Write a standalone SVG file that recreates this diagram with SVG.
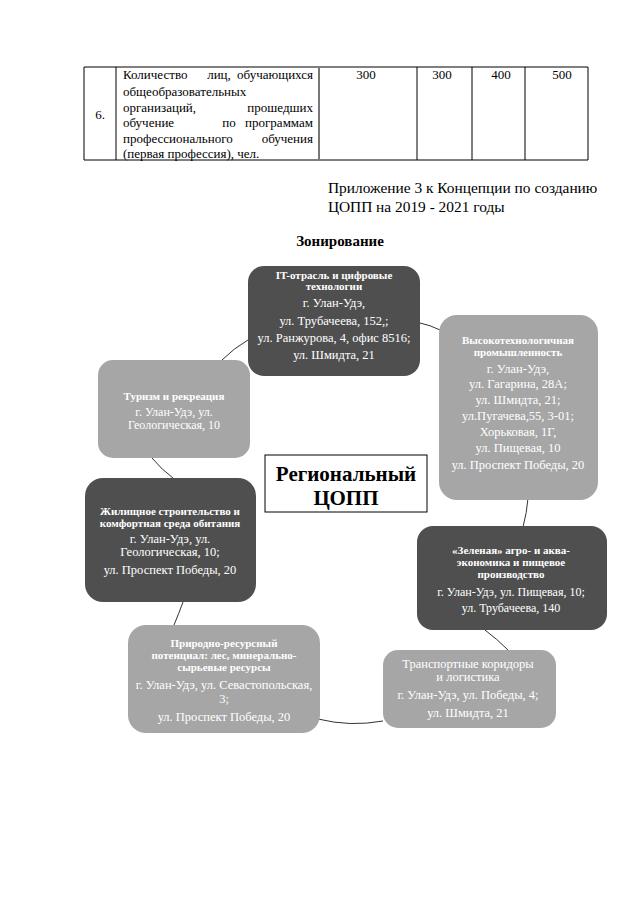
<svg xmlns="http://www.w3.org/2000/svg" width="640" height="905" viewBox="0 0 640 905">
<style>
.t{font-family:"Liberation Serif","Times New Roman",serif;fill:#000}
.tb{font-size:13px}
.n{font-family:"Liberation Serif","Times New Roman",serif;fill:#fff;text-anchor:middle;font-size:12.5px}
.s{font-size:12px}
.h{font-weight:bold;font-size:11px}
.dark{fill:#4f4f4f}
.light{fill:#a6a6a6}
.ln{stroke:#000;stroke-width:1;fill:none}
.cn{stroke:#333;stroke-width:1;fill:none}
</style>
<rect width="640" height="905" fill="#fff"/>
<g id="table">
<path class="ln" d="M84,67H588M84,160H588M84,67V160M116,67V160M417,67V160M472,67V160M525,67V160M588,67V160"/>
<path d="M319,67V160" stroke="#777" stroke-width="2"/>
<text class="t tb" x="100" y="119" text-anchor="middle">6.</text>
<g class="t tb">
<text x="123" y="79">Количество</text><text x="219" y="79" text-anchor="middle">лиц,</text><text x="313" y="79" text-anchor="end">обучающихся</text>
<text x="123" y="96">общеобразовательных</text>
<text x="123" y="112">организаций,</text><text x="313" y="112" text-anchor="end">прошедших</text>
<text x="123" y="127">обучение</text><text x="229" y="127" text-anchor="middle">по</text><text x="313" y="127" text-anchor="end">программам</text>
<text x="123" y="143">профессионального</text><text x="313" y="143" text-anchor="end">обучения</text>
<text x="123" y="158">(первая профессия), чел.</text>
</g>
<g class="t tb" text-anchor="middle">
<text x="366" y="79">300</text><text x="442" y="79">300</text><text x="501" y="79">400</text><text x="562" y="79">500</text>
</g>
</g>
<g id="header" class="t" font-size="15.4">
<text x="328" y="193">Приложение 3 к Концепции по созданию</text>
<text x="328" y="212">ЦОПП на 2019 - 2021 годы</text>
<text x="340" y="246" text-anchor="middle" font-weight="bold" font-size="15">Зонирование</text>
</g>
<g id="connectors">
<path class="cn" d="M420,323 Q430,325 440,330"/>
<path class="cn" d="M528,498 Q527,512 523,527"/>
<path class="cn" d="M485,630 Q497,639 508,650"/>
<path class="cn" d="M383,721 Q350,727 318,719"/>
<path class="cn" d="M174,625 Q179,613 183,602"/>
<path class="cn" d="M173,478 Q162,470 152,458"/>
<path class="cn" d="M222,360 Q234,348 248,340"/>
</g>
<g id="n-it">
<rect class="dark" x="248" y="266" width="172" height="110" rx="16"/>
<text class="n h" x="334" y="279">IT-отрасль и цифровые</text>
<text class="n h" x="334" y="290">технологии</text>
<text class="n" x="334" y="307">г. Улан-Удэ,</text>
<text class="n" x="334" y="325">ул. Трубачеева, 152,;</text>
<text class="n" x="334" y="342">ул. Ранжурова, 4, офис 8516;</text>
<text class="n" x="334" y="359">ул. Шмидта, 21</text>
</g>
<g id="n-hitech">
<rect class="light" x="439" y="315" width="159" height="185" rx="18"/>
<text class="n h" x="518" y="344">Высокотехнологичная</text>
<text class="n h" x="518" y="356">промышленность</text>
<text class="n" x="518" y="373">г. Улан-Удэ,</text>
<text class="n" x="518" y="388">ул. Гагарина, 28А;</text>
<text class="n" x="518" y="404">ул. Шмидта, 21;</text>
<text class="n" x="518" y="420">ул.Пугачева,55, 3-01;</text>
<text class="n" x="518" y="436">Хорьковая, 1Г,</text>
<text class="n" x="518" y="452">ул. Пищевая, 10</text>
<text class="n" x="518" y="469">ул. Проспект Победы, 20</text>
</g>
<g id="n-tourism">
<rect class="light" x="98" y="360" width="152" height="98" rx="15"/>
<text class="n h" x="174" y="400" font-size="11.5px">Туризм и рекреация</text>
<text class="n s" x="174" y="416">г. Улан-Удэ, ул.</text>
<text class="n s" x="174" y="429">Геологическая, 10</text>
</g>
<g id="n-housing">
<rect class="dark" x="85" y="478" width="171" height="124" rx="18"/>
<text class="n h" x="170" y="515" font-size="11.5px">Жилищное строительство и</text>
<text class="n h" x="170" y="527" font-size="11.5px">комфортная среда обитания</text>
<text class="n" x="170" y="543">г. Улан-Удэ, ул.</text>
<text class="n" x="170" y="556">Геологическая, 10;</text>
<text class="n" x="170" y="574">ул. Проспект Победы, 20</text>
</g>
<g id="n-green">
<rect class="dark" x="417" y="526" width="190" height="104" rx="16"/>
<text class="n h" x="511" y="554">«Зеленая» агро- и аква-</text>
<text class="n h" x="511" y="566">экономика и пищевое</text>
<text class="n h" x="511" y="578">производство</text>
<text class="n s" x="511" y="596">г. Улан-Удэ, ул. Пищевая, 10;</text>
<text class="n s" x="511" y="612">ул. Трубачеева, 140</text>
</g>
<g id="n-natural">
<rect class="light" x="128" y="625" width="192" height="108" rx="18"/>
<text class="n h" x="224" y="647">Природно-ресурсный</text>
<text class="n h" x="224" y="659">потенциал: лес, минерально-</text>
<text class="n h" x="224" y="671">сырьевые ресурсы</text>
<text class="n" x="224" y="689" font-size="12.8">г. Улан-Удэ, ул. Севастопольская,</text>
<text class="n" x="224" y="703" font-size="12.8">3;</text>
<text class="n" x="224" y="721" font-size="12.8">ул. Проспект Победы, 20</text>
</g>
<g id="n-transport">
<rect class="light" x="383" y="650" width="173" height="78" rx="15"/>
<text class="n" x="468" y="668" font-size="13">Транспортные коридоры</text>
<text class="n" x="468" y="681" font-size="13">и логистика</text>
<text class="n" x="468" y="699">г. Улан-Удэ, ул. Победы, 4;</text>
<text class="n" x="468" y="717">ул. Шмидта, 21</text>
</g>
<g id="n-center">
<rect x="265" y="455" width="162" height="57" fill="#fff" stroke="#000" stroke-width="1"/>
<text class="t" x="346" y="481" text-anchor="middle" font-weight="bold" font-size="21">Региональный</text>
<text class="t" x="346" y="505" text-anchor="middle" font-weight="bold" font-size="21">ЦОПП</text>
</g>
</svg>
